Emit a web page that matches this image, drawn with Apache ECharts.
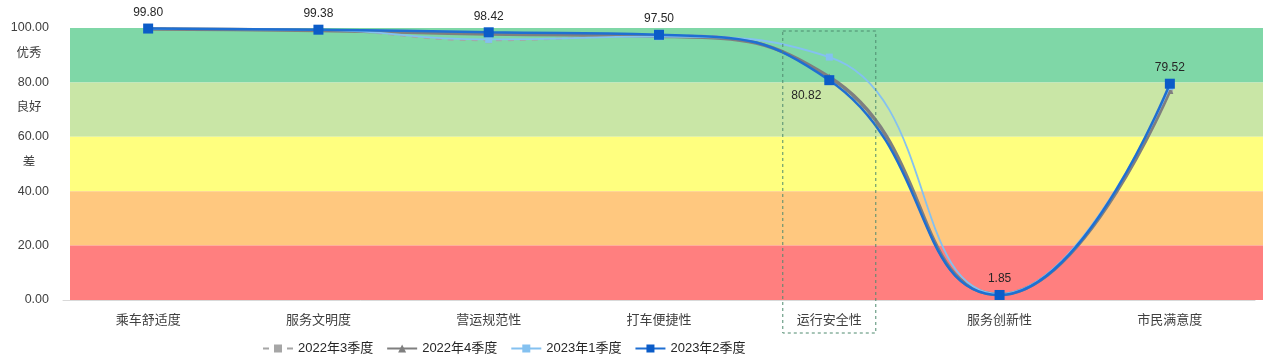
<!DOCTYPE html>
<html>
<head>
<meta charset="utf-8">
<script src="https://cdn.jsdelivr.net/npm/echarts@6/dist/echarts.min.js"></script>
<style>
html,body{margin:0;padding:0;background:#fff;}
#c{width:1280px;height:364px;}
</style>
</head>
<body>
<div id="c"></div>
<script>
var categories = ['乘车舒适度','服务文明度','营运规范性','打车便捷性','运行安全性','服务创新性','市民满意度'];
var seriesNames = ['2022年3季度','2022年4季度','2023年1季度','2023年2季度'];
var q3_2022 = [99.7, 99.2, 95.5, 97.3, 81.5, 2.0, 77.0];
var q4_2022 = [99.6, 99.1, 97.8, 97.0, 82.0, 2.0, 77.0];
var q1_2023 = [99.7, 99.3, 95.8, 96.8, 89.3, 2.2, 78.5];
var q2_2023 = [99.80, 99.38, 98.42, 97.50, 80.82, 1.85, 79.52];
var yTicks = [0, 20, 40, 60, 80, 100];
var levelNames = {80: '优秀', 60: '良好', 40: '差'};
var bandRanges = [[80, 100], [60, 80], [40, 60], [20, 40], [0, 20]];
var bandColors = ['#7FD7A7', '#C9E6A6', '#FFFF7F', '#FFC87F', '#FF7F7F'];
var highlightIndex = 4;

var FONT = '"Liberation Sans", "Noto Sans CJK SC", sans-serif';
var chart = echarts.init(document.getElementById('c'), null, {renderer: 'canvas'});

var q2Data = q2_2023.map(function (v, i) {
  if (i === highlightIndex) {
    return {value: v, label: {position: 'bottom', offset: [-23, 0]}};
  }
  return v;
});

var option = {
  animation: false,
  textStyle: {fontFamily: FONT},
  grid: [
    {left: 63, right: 25, top: 28, bottom: 64, containLabel: false},
    {left: 70, right: 17, top: 28, bottom: 64, containLabel: false}
  ],
  legend: {
    left: 257, top: 337,
    itemWidth: 30, itemHeight: 10, itemGap: 13,
    textStyle: {fontSize: 13, color: '#262626', fontFamily: FONT},
    data: seriesNames
  },
  xAxis: [
    {
      type: 'category', gridIndex: 0, data: categories, boundaryGap: true,
      axisLine: {show: true, lineStyle: {color: '#D9D9D9', width: 1}},
      axisTick: {show: false},
      axisLabel: {color: '#404040', fontSize: 13, margin: 14, fontFamily: FONT}
    },
    {
      type: 'value', gridIndex: 1, min: 0, max: 1, show: false
    }
  ],
  yAxis: [
    {
      type: 'value', gridIndex: 0, min: 0, max: 100, interval: 20,
      axisLine: {show: false}, axisTick: {show: false},
      splitLine: {show: false},
      axisLabel: {
        margin: 14, color: '#404040', fontSize: 12, fontFamily: FONT,
        formatter: function (v) {
          var s = v.toFixed(2);
          if (levelNames[v]) {
            return '{c|' + levelNames[v] + '}\n{v|' + s + '}\n{c| }';
          }
          return '{v|' + s + '}';
        },
        rich: {
          v: {fontSize: 12.5, color: '#404040', lineHeight: 29, align: 'right', fontFamily: FONT},
          c: {fontSize: 12.5, color: '#404040', lineHeight: 29, width: 40, align: 'center', fontFamily: FONT}
        }
      }
    },
    {
      type: 'value', gridIndex: 1, min: 0, max: 100, show: false
    }
  ],
  series: [
    {
      name: 'bands', type: 'line', xAxisIndex: 1, yAxisIndex: 1, data: [],
      silent: true, z: 0, legendHoverLink: false,
      markArea: {
        silent: true,
        data: bandRanges.map(function (r, i) {
          return [{yAxis: r[0], itemStyle: {color: bandColors[i], opacity: 1}}, {yAxis: r[1]}];
        })
      }
    },
    {
      name: seriesNames[0], type: 'line', smooth: 0.5, data: q3_2022, z: 2,
      symbol: 'rect', symbolSize: 6,
      lineStyle: {color: '#A6A6A6', width: 2, type: [6, 6]},
      itemStyle: {color: '#A6A6A6'}
    },
    {
      name: seriesNames[1], type: 'line', smooth: 0.5, data: q4_2022, z: 3,
      symbol: 'triangle', symbolSize: 7,
      lineStyle: {color: '#7F7F7F', width: 3.5},
      itemStyle: {color: '#7F7F7F'}
    },
    {
      name: seriesNames[2], type: 'line', smooth: 0.5, data: q1_2023, z: 4,
      symbol: 'rect', symbolSize: 7,
      lineStyle: {color: '#84C1F0', width: 1.8},
      itemStyle: {color: '#84C1F0'}
    },
    {
      name: seriesNames[3], type: 'line', smooth: 0.5, data: q2Data, z: 5,
      symbol: 'rect', symbolSize: 10,
      lineStyle: {color: '#1F6FD2', width: 2.5},
      itemStyle: {color: '#0B5CC8'},
      label: {
        show: true, position: 'top', distance: 5,
        color: '#262626', fontSize: 12, fontFamily: FONT,
        formatter: function (p) { return Number(p.value).toFixed(2); }
      }
    }
  ]
};
chart.setOption(option);

function drawBox() {
  var cx = chart.convertToPixel({xAxisIndex: 0, yAxisIndex: 0}, [highlightIndex, 0]);
  var top = chart.convertToPixel({xAxisIndex: 0, yAxisIndex: 0}, [highlightIndex, 100]);
  var half = 46.5;
  chart.setOption({
    graphic: [{
      type: 'rect', z: 100,
      shape: {x: cx[0] - half, y: top[1] + 3, width: half * 2, height: (cx[1] + 33) - (top[1] + 3)},
      style: {fill: 'none', stroke: '#4E8A6E', lineWidth: 1, lineDash: [3, 3]}
    }]
  });
}
drawBox();
</script>
</body>
</html>
